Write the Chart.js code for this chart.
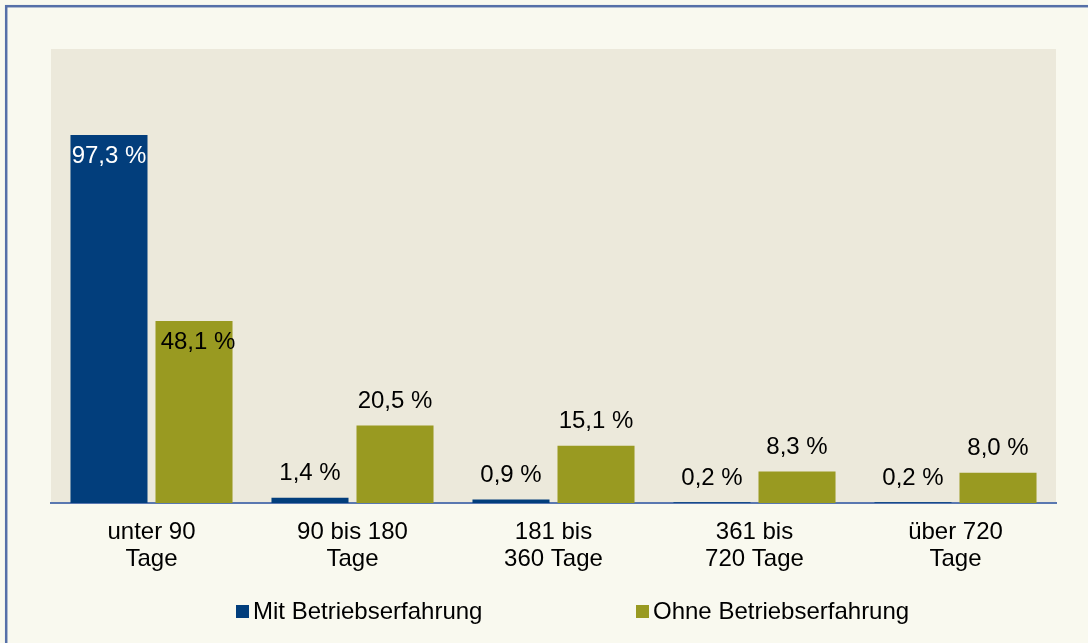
<!DOCTYPE html>
<html><head><meta charset="utf-8">
<script src="https://cdn.jsdelivr.net/npm/chart.js@4/dist/chart.umd.min.js"></script>
<style>html,body{margin:0;padding:0;background:#f9f9ef;overflow:hidden}#wrap{width:1088px;height:643px;position:relative}</style>
</head><body><div id="wrap"><canvas id="c" width="1088" height="643"></canvas></div>
<script>
const categories = [["unter 90","Tage"],["90 bis 180","Tage"],["181 bis","360 Tage"],["361 bis","720 Tage"],["über 720","Tage"]];
const seriesNames = ["Mit Betriebserfahrung","Ohne Betriebserfahrung"];
const mitValues = [97.3, 1.4, 0.9, 0.2, 0.2];
const ohneValues = [48.1, 20.5, 15.1, 8.3, 8.0];
const seriesColors = ["#023e7c", "#999a21"];

const FONT = "'Liberation Sans', Arial, sans-serif";

const bgPlugin = {
  id: 'bg',
  beforeDraw(chart) {
    const ctx = chart.ctx, a = chart.chartArea;
    ctx.save();
    ctx.fillStyle = '#f9f9ef';
    ctx.fillRect(0, 0, chart.width, chart.height);
    ctx.fillStyle = '#ece9db';
    ctx.fillRect(a.left, a.top, a.right - a.left, a.bottom - a.top);
    ctx.strokeStyle = '#5670a8';
    ctx.lineWidth = 2.5;
    ctx.strokeRect(6.2, 6.2, chart.width + 50, chart.height + 50);
    ctx.restore();
  }
};

const labelPlugin = {
  id: 'vals',
  afterDatasetsDraw(chart) {
    const ctx = chart.ctx;
    ctx.save();
    ctx.font = '24px ' + FONT;
    ctx.textAlign = 'center';
    ctx.textBaseline = 'middle';
    chart.data.datasets.forEach((ds, di) => {
      chart.getDatasetMeta(di).data.forEach((bar, i) => {
        const v = ds.data[i];
        const txt = v.toFixed(1).replace('.', ',') + ' %';
        let y, x = bar.x, color = '#000';
        if (v > 40) {
          y = bar.y + 21;
          if (di === 0) color = '#ffffff'; else x += 4;
        } else {
          y = bar.y - 24;
        }
        ctx.fillStyle = color;
        ctx.fillText(txt, x, y);
      });
    });
    ctx.restore();
  }
};

const legendPlugin = {
  id: 'customLegend',
  afterDraw(chart) {
    const ctx = chart.ctx;
    const starts = [236, 636];
    const yc = 612;
    ctx.save();
    ctx.font = '24px ' + FONT;
    ctx.textBaseline = 'middle';
    ctx.textAlign = 'left';
    chart.data.datasets.forEach((ds, di) => {
      ctx.fillStyle = ds.backgroundColor;
      ctx.fillRect(starts[di], yc - 7, 13, 13);
      ctx.fillStyle = '#000';
      ctx.fillText(ds.label, starts[di] + 17, yc);
    });
    ctx.restore();
  }
};

new Chart(document.getElementById('c'), {
  type: 'bar',
  data: {
    labels: categories,
    datasets: [
      { label: seriesNames[0], data: mitValues, backgroundColor: seriesColors[0] },
      { label: seriesNames[1], data: ohneValues, backgroundColor: seriesColors[1] }
    ]
  },
  options: {
    responsive: false,
    animation: false,
    devicePixelRatio: 1,
    layout: { padding: { left: 51, right: 32, top: 49, bottom: 0 } },
    datasets: { bar: { categoryPercentage: 0.846, barPercentage: 0.906 } },
    plugins: { legend: { display: false }, tooltip: { enabled: false } },
    scales: {
      x: {
        z: 1,
        grid: { display: false, drawTicks: false },
        border: { display: true, color: '#5a78b0', width: 2 },
        ticks: { color: '#000', font: { family: FONT, size: 24, lineHeight: 1.125 }, padding: 16, maxRotation: 0, autoSkip: false },
        afterFit(scale) { scale.height = 140; }
      },
      y: { display: false, min: 0, max: 120 }
    }
  },
  plugins: [bgPlugin, labelPlugin, legendPlugin]
});
</script>
</body></html>
